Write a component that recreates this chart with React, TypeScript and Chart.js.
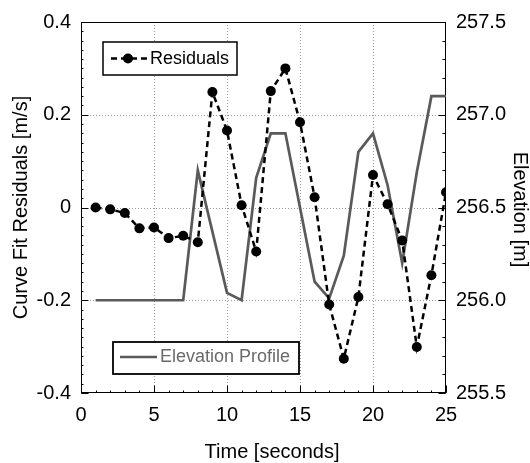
import React, { useEffect, useRef } from "react";
import { Chart, registerables } from "chart.js";

Chart.register(...registerables);

const timeSeconds = [1, 2, 3, 4, 5, 6, 7, 8, 9, 10, 11, 12, 13, 14, 15, 16, 17, 18, 19, 20, 21, 22, 23, 24, 25];
const residuals = [0.0, -0.004, -0.012, -0.045, -0.043, -0.066, -0.061, -0.075, 0.249, 0.166, 0.005, -0.095, 0.251, 0.3, 0.184, 0.022, -0.209, -0.326, -0.193, 0.07, 0.007, -0.071, -0.301, -0.146, 0.033];
const elevation = [256.0, 256.0, 256.0, 256.0, 256.0, 256.0, 256.0, 256.7, 256.37, 256.04, 256.0, 256.66, 256.9, 256.9, 256.5, 256.1, 256.01, 256.24, 256.8, 256.9, 256.62, 256.2, 256.69, 257.1, 257.1];

const xTicks = [0, 5, 10, 15, 20, 25];
const yTicks = [-0.4, -0.2, 0, 0.2, 0.4];
const yTickLabels = ["-0.4", "-0.2", "0", "0.2", "0.4"];
const y2Ticks = [255.5, 256.0, 256.5, 257.0, 257.5];
const y2TickLabels = ["255.5", "256.0", "256.5", "257.0", "257.5"];

const xTitle = "Time [seconds]";
const yTitle = "Curve Fit Residuals [m/s]";
const y2Title = "Elevation [m]";
const residualLabel = "Residuals";
const elevationLabel = "Elevation Profile";

const FONT = "'Liberation Sans', Arial, sans-serif";
const GRAY = "#5a5a5a";

const decorPlugin = {
  id: "decor",
  beforeDatasetsDraw(chart: any) {
    const { ctx, chartArea: a, scales } = chart;
    const x = scales.x, y = scales.y, y2 = scales.y2;
    ctx.save();
    // dotted grid
    ctx.strokeStyle = "#9a9a9a";
    ctx.lineWidth = 1;
    ctx.setLineDash([1, 2]);
    xTicks.forEach((v) => {
      if (v === x.min || v === x.max) return;
      const px = Math.round(x.getPixelForValue(v)) + 0.5;
      ctx.beginPath();
      ctx.moveTo(px, a.top);
      ctx.lineTo(px, a.bottom);
      ctx.stroke();
    });
    yTicks.forEach((v) => {
      if (v === y.min || v === y.max) return;
      const py = Math.round(y.getPixelForValue(v)) + 0.5;
      ctx.beginPath();
      ctx.moveTo(a.left, py);
      ctx.lineTo(a.right, py);
      ctx.stroke();
    });
    ctx.setLineDash([]);
    // inward ticks
    ctx.strokeStyle = "#000";
    const L = Math.round(a.left) + 0.5, R = Math.round(a.right) - 0.5, B = Math.round(a.bottom) - 0.5;
    const tick = (x1: number, y1: number, x2: number, y2p: number) => {
      ctx.beginPath();
      ctx.moveTo(x1, y1);
      ctx.lineTo(x2, y2p);
      ctx.stroke();
    };
    yTicks.forEach((v) => {
      const py = Math.round(y.getPixelForValue(v)) + 0.5;
      tick(L, py, L + 7, py);
    });
    for (let i = -20; i <= 20; i++) {
      const py = Math.round(y.getPixelForValue(i * 0.02)) + 0.5;
      tick(L, py, L + 2, py);
    }
    xTicks.forEach((v) => {
      const px = Math.round(x.getPixelForValue(v)) + 0.5;
      tick(px, B, px, B - 7);
    });
    for (let i = 0; i <= 25; i++) {
      const px = Math.round(x.getPixelForValue(i)) + 0.5;
      tick(px, B, px, B - 2);
    }
    y2Ticks.forEach((v) => {
      const py = Math.round(y2.getPixelForValue(v)) + 0.5;
      tick(R, py, R - 7, py);
    });
    for (let i = 0; i <= 20; i++) {
      const py = Math.round(y2.getPixelForValue(255.5 + i * 0.1)) + 0.5;
      tick(R, py, R - 3, py);
    }
    // frame
    ctx.lineWidth = 1;
    ctx.strokeRect(L, Math.round(a.top) + 0.5, R - L, B - Math.round(a.top) - 0.5);
    ctx.restore();
  },
  afterDatasetsDraw(chart: any) {
    const { ctx, chartArea: a } = chart;
    ctx.save();
    // Residuals legend
    const b1 = { x: a.left + 22, y: a.top + 20, w: 134, h: 33 };
    ctx.fillStyle = "#fff";
    ctx.fillRect(b1.x, b1.y, b1.w, b1.h);
    ctx.strokeStyle = "#000";
    ctx.lineWidth = 1.5;
    ctx.strokeRect(b1.x, b1.y, b1.w, b1.h);
    const ly1 = b1.y + 16.5;
    ctx.setLineDash([6, 4]);
    ctx.lineWidth = 2.5;
    ctx.beginPath();
    ctx.moveTo(b1.x + 8, ly1);
    ctx.lineTo(b1.x + 46, ly1);
    ctx.stroke();
    ctx.setLineDash([]);
    ctx.fillStyle = "#000";
    ctx.beginPath();
    ctx.arc(b1.x + 25, ly1, 5, 0, Math.PI * 2);
    ctx.fill();
    ctx.font = `18px ${FONT}`;
    ctx.textBaseline = "middle";
    ctx.textAlign = "left";
    ctx.fillText(residualLabel, b1.x + 47, ly1 + 0.5);
    // Elevation legend
    const b2 = { x: a.left + 32, y: a.bottom - 51, w: 186, h: 32 };
    ctx.fillStyle = "#fff";
    ctx.fillRect(b2.x, b2.y, b2.w, b2.h);
    ctx.strokeStyle = "#000";
    ctx.lineWidth = 1.8;
    ctx.strokeRect(b2.x, b2.y, b2.w, b2.h);
    const ly2 = b2.y + 15;
    ctx.strokeStyle = GRAY;
    ctx.lineWidth = 2.7;
    ctx.beginPath();
    ctx.moveTo(b2.x + 7, ly2);
    ctx.lineTo(b2.x + 44, ly2);
    ctx.stroke();
    ctx.fillStyle = "#6a6a6a";
    ctx.fillText(elevationLabel, b2.x + 47, ly2 + 0.5);
    ctx.restore();
  },
  afterDraw(chart: any) {
    const { ctx, chartArea: a } = chart;
    ctx.save();
    ctx.fillStyle = "#000";
    ctx.font = `20px ${FONT}`;
    ctx.textAlign = "center";
    ctx.textBaseline = "alphabetic";
    ctx.fillText(xTitle, 272, 457.5);
    ctx.translate(27, (a.top + a.bottom) / 2);
    ctx.rotate(-Math.PI / 2);
    ctx.fillText(yTitle, 0, 0);
    ctx.restore();
    ctx.save();
    ctx.fillStyle = "#000";
    ctx.font = `20px ${FONT}`;
    ctx.textAlign = "center";
    ctx.textBaseline = "alphabetic";
    ctx.translate(514, 209.5);
    ctx.rotate(Math.PI / 2);
    ctx.fillText(y2Title, 0, 0);
    ctx.restore();
  },
};

export default function App() {
  const ref = useRef<HTMLCanvasElement>(null);
  useEffect(() => {
    if (!ref.current) return;
    const tickFont = { family: FONT, size: 20 };
    const chart = new Chart(ref.current, {
      type: "line",
      data: {
        datasets: [
          {
            label: residualLabel,
            data: timeSeconds.map((t, i) => ({ x: t, y: residuals[i] })),
            yAxisID: "y",
            borderColor: "#000",
            backgroundColor: "#000",
            borderWidth: 2.5,
            borderDash: [6, 4],
            pointRadius: 5,
            pointBorderWidth: 0,
            pointBackgroundColor: "#000",
            tension: 0,
          },
          {
            label: elevationLabel,
            data: timeSeconds.map((t, i) => ({ x: t, y: elevation[i] })),
            yAxisID: "y2",
            borderColor: GRAY,
            borderWidth: 2.7,
            pointRadius: 0,
            tension: 0,
          },
        ],
      },
      options: {
        animation: false,
        responsive: false,
        events: [],
        layout: { padding: { top: 19, left: 0, right: 0, bottom: 0 } },
        plugins: { legend: { display: false }, tooltip: { enabled: false } },
        scales: {
          x: {
            type: "linear",
            min: 0,
            max: 25,
            afterBuildTicks: (s: any) => { s.ticks = xTicks.map((v) => ({ value: v })); },
            afterFit: (s: any) => { s.height = 70; },
            grid: { display: false, drawTicks: false },
            border: { display: false },
            ticks: { font: tickFont, color: "#000", padding: 10, maxRotation: 0, autoSkip: false },
          },
          y: {
            type: "linear",
            position: "left",
            min: -0.4,
            max: 0.4,
            afterBuildTicks: (s: any) => { s.ticks = yTicks.map((v) => ({ value: v })); },
            afterFit: (s: any) => { s.width = 81; },
            grid: { display: false, drawTicks: false },
            border: { display: false },
            ticks: {
              font: tickFont,
              color: "#000",
              padding: 10,
              autoSkip: false,
              callback: (v: any) => yTickLabels[yTicks.findIndex((t) => Math.abs(t - v) < 1e-9)] ?? "",
            },
          },
          y2: {
            type: "linear",
            position: "right",
            min: 255.5,
            max: 257.5,
            afterBuildTicks: (s: any) => { s.ticks = y2Ticks.map((v) => ({ value: v })); },
            afterFit: (s: any) => { s.width = 84; },
            grid: { display: false, drawTicks: false },
            border: { display: false },
            ticks: {
              font: tickFont,
              color: "#000",
              padding: 10,
              autoSkip: false,
              callback: (v: any) => y2TickLabels[y2Ticks.findIndex((t) => Math.abs(t - v) < 1e-9)] ?? "",
            },
          },
        },
      },
      plugins: [decorPlugin],
    } as any);
    return () => chart.destroy();
  }, []);
  return (
    <div style={{ position: "fixed", left: 0, top: 0, width: 530, height: 463, background: "#fff" }}>
      <canvas ref={ref} width={530} height={463} style={{ display: "block" }} />
    </div>
  );
}
